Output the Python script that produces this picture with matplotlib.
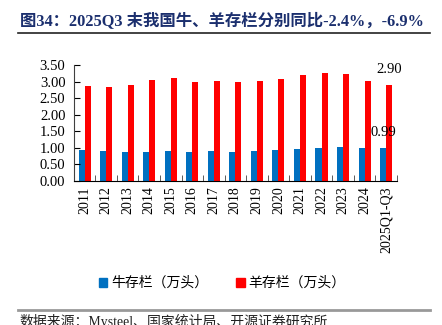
import numpy as np
import matplotlib
matplotlib.use("Agg")
import matplotlib.pyplot as plt
from matplotlib.lines import Line2D
from matplotlib.patches import Patch

plt.rcParams['font.family'] = ['Liberation Serif', 'Noto Sans CJK SC', 'DejaVu Sans']

# 数据
years = ['2011', '2012', '2013', '2014', '2015', '2016', '2017', '2018',
         '2019', '2020', '2021', '2022', '2023', '2024', '2025Q1-Q3']
cattle = [0.93, 0.90, 0.89, 0.89, 0.90, 0.87, 0.90, 0.89,
          0.91, 0.94, 0.98, 1.01, 1.04, 1.00, 0.99]
sheep = [2.87, 2.85, 2.90, 3.05, 3.12, 2.99, 3.03, 2.98,
         3.01, 3.07, 3.21, 3.27, 3.24, 3.01, 2.90]
series_names = ['牛存栏（万头）', '羊存栏（万头）']
title = '图34：2025Q3 末我国牛、羊存栏分别同比-2.4%，-6.9%'
source = '数据来源：Mysteel、国家统计局、开源证券研究所'

blue = '#0070C0'
red = '#FF0000'
navy = '#1B2F6E'

fig = plt.figure(figsize=(4.42, 3.25), dpi=100)
ax = fig.add_axes([0.167, 0.443, 0.731, 0.357])

x = np.arange(len(years))
w = 0.28
ax.bar(x - w / 2, cattle, w, color=blue, linewidth=0)
ax.bar(x + w / 2, sheep, w, color=red, linewidth=0)

ax.set_xlim(-0.5, len(years) - 0.5)
ax.set_ylim(0, 3.5)
ax.set_yticks(np.arange(0, 3.51, 0.5))
ax.set_yticklabels(['%.2f' % v for v in np.arange(0, 3.51, 0.5)], fontsize=10.5)
ax.set_xticks(x)
ax.set_xticklabels(years, rotation=90, fontsize=10)
ax.set_xticks(np.arange(-0.5, len(years), 1), minor=True)
ax.tick_params(axis='x', which='major', length=0, pad=4)
ax.tick_params(axis='x', which='minor', direction='in', length=4, color='#404040')
ax.tick_params(axis='y', direction='in', length=4, pad=6)
for s in ['top', 'right']:
    ax.spines[s].set_visible(False)
ax.spines['left'].set_color('#404040')

# 最后一期数值标注
ax.annotate('%.2f' % sheep[-1], (x[-1] + w / 2, sheep[-1]), xytext=(0, 11),
            textcoords='offset points', ha='center', va='center', fontsize=10.5)
ax.annotate('%.2f' % cattle[-1], (x[-1] - w / 2, cattle[-1]), xytext=(0, 11),
            textcoords='offset points', ha='center', va='center', fontsize=10.5)

# 标题与分隔线
fig.text(0.045, 0.938, title, fontsize=11.8, fontweight='bold', color=navy,
         ha='left', va='center')
fig.add_artist(Line2D([0.04, 0.973], [0.898, 0.898], color='#222222', linewidth=1.2))
fig.add_artist(Line2D([0.04, 0.973], [0.047, 0.047], color='#999999', linewidth=2))
fig.text(0.045, 0.012, source, fontsize=10, color='#222222', ha='left', va='center')

handles = [Patch(color=blue), Patch(color=red)]
fig.legend(handles, series_names, loc='center', bbox_to_anchor=(0.503, 0.129),
           ncol=2, frameon=False, handlelength=0.6, handleheight=0.6,
           handletextpad=0.3, columnspacing=2.0,
           prop={'family': ['Noto Sans CJK SC'], 'size': 10})

fig.savefig('out.png', dpi=100)
